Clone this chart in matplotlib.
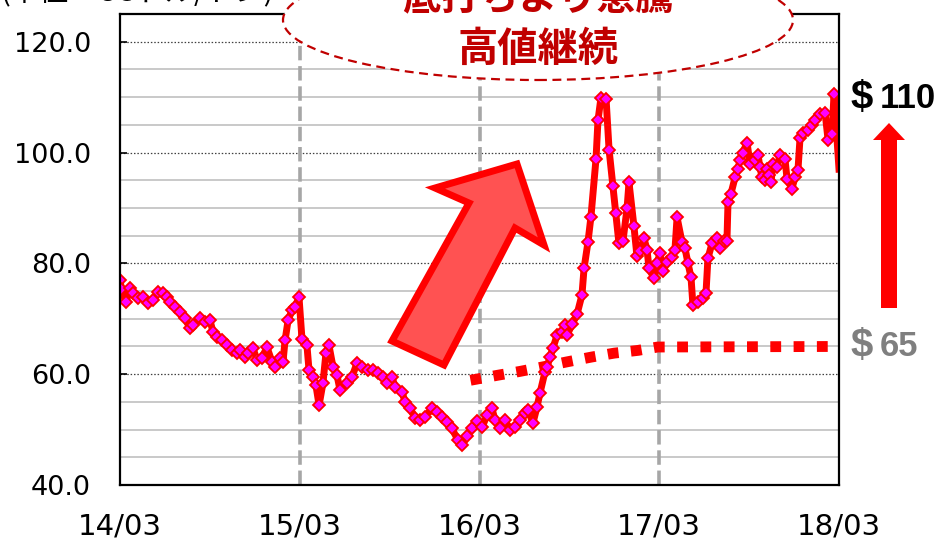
import matplotlib
matplotlib.use("Agg")
import matplotlib.pyplot as plt
from matplotlib.patches import Ellipse, Polygon
import numpy as np

# ---- data (months since 2014/03, price) ----
months = [0.0, 0.1, 0.40, 0.67, 0.87, 1.20, 1.54, 1.87, 2.20, 2.54, 2.87, 3.14, 3.34, 3.67, 4.01,
          4.34, 4.67, 4.87, 5.34, 5.67, 6.01, 6.21, 6.48, 6.81, 7.14, 7.48, 7.81, 8.01, 8.34,
          8.55, 8.88, 9.15, 9.48, 9.81, 10.15, 10.35, 10.68, 10.88, 11.02, 11.22, 11.48, 11.68,
          11.95, 12.15, 12.48, 12.62, 12.88, 13.08, 13.29, 13.55, 13.75, 13.95, 14.22, 14.49,
          14.69, 15.15, 15.49, 15.82, 16.16, 16.56, 16.89, 17.22, 17.56, 17.82, 18.16, 18.36,
          18.83, 19.03, 19.36, 19.69, 20.03, 20.36, 20.83, 21.16, 21.50, 21.83, 22.16, 22.56,
          22.83, 23.17, 23.50, 23.83, 24.17, 24.50, 24.83, 25.03, 25.37, 25.70, 26.04, 26.37,
          26.70, 27.04, 27.24, 27.57, 27.84, 28.04, 28.37, 28.51, 28.71, 28.91, 29.17, 29.51,
          29.71, 29.84, 30.18, 30.51, 30.84, 30.98, 31.24, 31.44, 31.78, 31.91, 32.11, 32.45,
          32.65, 32.91, 33.11, 33.31, 33.58, 33.85, 33.98, 34.31, 34.51, 34.71, 34.98, 35.18,
          35.32, 35.65, 35.85, 36.05, 36.25, 36.52, 36.85, 37.05, 37.19, 37.52, 37.72, 37.92,
          38.12, 38.25, 38.59, 38.92, 39.12, 39.25, 39.52, 39.86, 40.06, 40.32, 40.52, 40.59,
          40.79, 41.06, 41.26, 41.39, 41.59, 41.86, 42.06, 42.39, 42.59, 42.73, 42.86, 43.06,
          43.19, 43.33, 43.46, 43.59, 43.86, 44.06, 44.39, 44.53, 44.86, 45.06, 45.26, 45.40,
          45.60, 45.93, 46.20, 46.40, 46.73, 47.07, 47.27, 47.53, 47.67, 48.00]
prices = [77.0, 75.3, 73.0, 75.5, 74.6, 73.7, 73.9, 72.8, 73.3, 74.8, 74.6, 73.9, 73.0, 72.1, 71.2,
          70.1, 68.3, 68.8, 70.1, 69.4, 69.7, 67.6, 66.7, 66.1, 65.2, 64.3, 63.8, 64.3, 63.1,
          63.8, 64.7, 62.5, 62.9, 64.9, 62.2, 61.3, 62.9, 62.2, 66.1, 69.7, 71.5, 72.1,
          73.9, 66.3, 65.2, 60.7, 59.5, 58.0, 54.4, 58.4, 63.8, 65.2, 61.3, 59.8,
          57.1, 58.4, 59.5, 62.0, 61.3, 60.7, 60.7, 60.2, 59.5, 58.4, 59.5, 57.7,
          56.8, 55.0, 53.9, 52.1, 51.7, 52.3, 53.9, 53.2, 52.3, 51.4, 50.2, 48.1,
          47.2, 48.8, 50.2, 51.5, 50.4, 52.6, 53.9, 51.7, 50.3, 51.7, 49.9, 50.5,
          51.7, 53.0, 53.5, 51.2, 54.1, 56.6, 60.4, 61.3, 63.1, 64.7, 67.0, 67.6,
          68.8, 67.0, 69.0, 70.8, 74.3, 79.1, 83.8, 88.4, 98.9, 105.8, 109.9, 109.7,
          100.5, 93.9, 89.0, 83.6, 84.1, 89.9, 94.6, 86.7, 81.4, 82.3, 84.5, 82.5,
          79.1, 77.3, 80.0, 81.8, 78.7, 80.2, 81.1, 82.5, 88.3, 83.8, 82.7, 80.0,
          77.5, 72.4, 73.0, 73.7, 74.6, 80.9, 83.6, 84.5, 82.7, 84.1, 84.1, 91.0,
          92.6, 95.5, 97.1, 98.6, 100.0, 101.8, 98.0, 98.6, 99.5, 97.3, 95.5, 95.0,
          97.1, 95.9, 94.6, 98.0, 97.3, 99.5, 98.9, 95.3, 93.5, 95.5, 96.8, 102.7,
          103.6, 104.0, 104.9, 105.8, 107.0, 107.2, 102.3, 103.4, 110.6, 97.0]

forecast_months = [23.4, 25.2, 26.7, 28.2, 29.8, 31.5, 33.0, 34.6, 35.9, 47.8]
forecast_prices = [58.9, 59.8, 60.5, 61.3, 62.2, 63.1, 63.8, 64.3, 64.9, 65.0]

tick_months = [0, 12, 24, 36, 48]
tick_labels = ["14/03", "15/03", "16/03", "17/03", "18/03"]
y_ticks = [40, 60, 80, 100, 120]

W, H = 939, 539
fig = plt.figure(figsize=(W / 100, H / 100), dpi=100)
ax = fig.add_axes([120 / W, 1 - 485 / H, 719 / W, (485 - 14) / H])
ax.set_xlim(0, 48)
ax.set_ylim(40, 125)

# grid
for v in range(45, 125, 5):
    if v % 20 == 0:
        ax.axhline(v, color="#404040", lw=0.9, ls=(0, (1.2, 1.5)), zorder=1)
    else:
        ax.axhline(v, color="#C0C0C0", lw=1.2, zorder=1)
for m in tick_months[1:-1]:
    ax.axvline(m, color="#A6A6A6", lw=2.6, ls=(0, (4, 1.6)), zorder=1.5)

# forecast dotted line
ax.plot(forecast_months, forecast_prices, color="#FF0000", lw=7.8,
        ls=(0, (1, 1.15)), dash_capstyle="butt", zorder=2)

# price line
ax.plot(months, prices, color="#FF0000", lw=5.0, zorder=3, solid_joinstyle="round",
        marker="D", markersize=6.0, markerfacecolor="#FF00FF", markeredgecolor="#FF0000",
        markeredgewidth=1.3, markevery=slice(0, len(months) - 1))

ax.set_xticks(tick_months)
ax.set_xticklabels(tick_labels, fontsize=21)
ax.set_yticks(y_ticks)
ax.set_yticklabels([f"{v:.1f}" for v in y_ticks], fontsize=19.5)
ax.tick_params(axis="x", length=0, pad=20)
ax.tick_params(axis="y", length=5, direction="in", pad=21, width=1.2)
for s in ax.spines.values():
    s.set_linewidth(1.6)
    s.set_color("black")
    s.set_zorder(4)

def fx(x):
    return x / W

def fy(y):
    return 1 - y / H

# unit label (mostly cut off at the top)
fig.text(fx(0), fy(1), "(単位：USドル/トン)", fontsize=21,
         family=["Noto Sans CJK JP", "DejaVu Sans"], ha="left", va="baseline", color="black")

# ellipse callout
ell = Ellipse((fx(538), fy(20)), 510 / W, 120 / H, transform=fig.transFigure,
              facecolor="white", edgecolor="#C00000", lw=1.6, ls=(0, (4, 2.5)), zorder=5)
fig.add_artist(ell)
fig.text(fx(538), fy(-2), "底打ちより急騰", fontsize=28, fontweight="bold", color="#C00000",
         family=["Noto Sans CJK JP", "DejaVu Sans"], ha="center", va="center", zorder=6)
fig.text(fx(538), fy(49), "高値継続", fontsize=29, fontweight="bold", color="#C00000",
         family=["Noto Sans CJK JP", "DejaVu Sans"], ha="center", va="center", zorder=6)

# big up arrow
arrow_px = [(392, 341), (469, 203), (435, 188), (517, 164), (544, 245), (515, 228), (444, 365)]
arrow = Polygon([(fx(x), fy(y)) for x, y in arrow_px], closed=True, transform=fig.transFigure,
                facecolor="#FF5252", edgecolor="#FF0000", lw=5, joinstyle="miter", zorder=5)
fig.add_artist(arrow)

# right vertical arrow
rarrow_px = [(881, 308), (881, 140), (873, 140), (889, 123), (905, 140), (897, 140), (897, 308)]
rarrow = Polygon([(fx(x), fy(y)) for x, y in rarrow_px], closed=True, transform=fig.transFigure,
                 facecolor="#FF0000", edgecolor="none", zorder=5)
fig.add_artist(rarrow)

bold = ["Liberation Sans", "DejaVu Sans"]
fig.text(fx(851), fy(98), "$", fontsize=29, fontweight="bold", family=bold, color="black",
         ha="left", va="center")
fig.text(fx(880), fy(99), "110", fontsize=25, fontweight="bold", family=bold, color="black",
         ha="left", va="center")
fig.text(fx(851), fy(346), "$", fontsize=29, fontweight="bold", family=bold, color="#7F7F7F",
         ha="left", va="center")
fig.text(fx(880), fy(347), "65", fontsize=25, fontweight="bold", family=bold, color="#7F7F7F",
         ha="left", va="center")

fig.savefig("out.png", dpi=100)
